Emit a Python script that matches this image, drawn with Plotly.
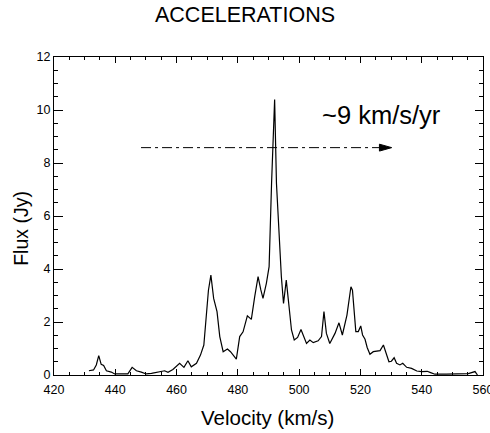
import plotly.graph_objects as go

# Spectrum
velocity = [431.4, 432.9, 433.8, 434.6, 435.4, 436.2, 437.1, 438.7, 439.8, 444.1,
            445.5, 446.9, 448.5, 450.1, 451.8, 453.9, 456.1, 457.2, 458.8, 461.0,
            462.4, 463.7, 464.8, 466.5, 467.8, 468.9, 469.7, 470.4, 471.2, 472.1,
            473.2, 474.1, 475.2, 476.6, 477.6, 478.4, 479.5, 480.6, 481.7, 483.1,
            484.4, 485.5, 486.6, 487.5, 488.2, 489.3, 490.2, 491.0, 492.0, 492.6,
            493.4, 494.2, 494.9, 495.8, 496.6, 497.5, 498.4, 499.5, 500.6, 501.6,
            502.4, 503.5, 504.6, 506.2, 507.3, 508.1, 508.9, 510.0, 511.7, 513.0,
            514.1, 515.6, 516.9, 517.4, 518.5, 519.3, 520.1, 520.7, 521.5, 522.2,
            523.1, 524.2, 526.4, 527.5, 528.3, 529.3, 530.1, 531.0, 531.8, 532.9,
            533.8, 535.1, 536.7, 538.4, 540.0, 541.8, 542.9, 544.3, 548.0, 552.0,
            555.2, 557.4, 558.2]
flux = [0.16, 0.19, 0.38, 0.73, 0.40, 0.36, 0.16, 0.11, 0.04, 0.04,
        0.29, 0.16, 0.11, 0.04, 0.06, 0.11, 0.16, 0.10, 0.21, 0.44,
        0.29, 0.54, 0.31, 0.44, 0.75, 1.13, 2.20, 3.20, 3.77, 2.89,
        2.39, 1.45, 0.88, 0.98, 0.88, 0.75, 0.60, 1.45, 1.63, 2.23,
        2.10, 2.96, 3.71, 3.21, 2.89, 3.46, 4.09, 7.23, 10.40, 7.23,
        5.35, 3.71, 2.70, 3.58, 2.70, 1.70, 1.32, 1.42, 1.72, 1.45,
        1.19, 1.32, 1.22, 1.29, 1.45, 2.39, 1.57, 1.19, 1.57, 1.97,
        1.51, 2.26, 3.33, 3.20, 1.64, 1.64, 1.85, 1.51, 1.35, 1.04,
        0.78, 0.88, 0.92, 1.13, 0.82, 0.50, 0.52, 0.65, 0.44, 0.38,
        0.44, 0.29, 0.25, 0.15, 0.13, 0.14, 0.09, 0.03, 0.03, 0.04,
        0.05, 0.13, 0.00]

x_range = [420, 560]
y_range = [0, 12]

# Acceleration arrow annotation
arrow_x_start = 448.4
arrow_head_base = 526.2
arrow_tip = 530.2
arrow_y = 8.58
arrow_half_h = 0.13
arrow_label = "~9 km/s/yr"
label_x, label_y = 527.0, 9.80

FONT = "Liberation Sans, Arial, Helvetica, sans-serif"

fig = go.Figure()
fig.add_trace(go.Scatter(x=velocity, y=flux, mode="lines",
                         line=dict(color="black", width=1.2),
                         showlegend=False, hoverinfo="skip"))

fig.add_shape(type="line", xref="x", yref="y",
              x0=arrow_x_start, x1=arrow_head_base, y0=arrow_y, y1=arrow_y,
              line=dict(color="black", width=1, dash="10px,4px,3px,4px"))
fig.add_shape(type="path", xref="x", yref="y",
              path=f"M {arrow_head_base},{arrow_y - arrow_half_h} L {arrow_tip},{arrow_y} "
                   f"L {arrow_head_base},{arrow_y + arrow_half_h} Z",
              fillcolor="black", line=dict(color="black", width=1))

fig.add_annotation(x=label_x, y=label_y, xref="x", yref="y", text=arrow_label,
                   showarrow=False, xanchor="center", yanchor="middle",
                   font=dict(family=FONT, size=25.5, color="black"))

fig.add_annotation(x=0.497, y=-0.135, xref="paper", yref="paper",
                   text="Velocity (km/s)", showarrow=False,
                   xanchor="center", yanchor="middle",
                   font=dict(family=FONT, size=20.5, color="black"))
fig.add_annotation(x=-0.076, y=0.461, xref="paper", yref="paper",
                   text="Flux (Jy)", showarrow=False, textangle=-90,
                   xanchor="center", yanchor="middle",
                   font=dict(family=FONT, size=19.5, color="black"))

axis_common = dict(showgrid=False, zeroline=False, showline=True,
                   linecolor="black", linewidth=1, ticks="inside",
                   mirror="allticks", tickcolor="black", tickwidth=1,
                   ticklabeloverflow="allow", automargin=False,
                   tickfont=dict(family=FONT, size=12.5, color="black"))

fig.update_xaxes(range=x_range, tick0=420, dtick=20, ticklen=6,
                 ticklabelstandoff=3,
                 minor=dict(dtick=5, ticks="inside", ticklen=3,
                            tickcolor="black", tickwidth=1),
                 **axis_common)
fig.update_yaxes(range=y_range, tick0=0, dtick=2, ticklen=8.5,
                 minor=dict(dtick=0.5, ticks="inside", ticklen=4,
                            tickcolor="black", tickwidth=1),
                 **axis_common)

fig.update_layout(
    width=490, height=433,
    margin=dict(l=54, r=7, t=57, b=58, autoexpand=False),
    paper_bgcolor="white", plot_bgcolor="white",
    title=dict(text="ACCELERATIONS", x=0.5, xref="container",
               y=1 - 14.3 / 433, yref="container", yanchor="middle",
               xanchor="center",
               font=dict(family=FONT, size=21.5, color="black")),
)

# Remove the default 8px page margin so the figure sits at the window origin
fig.write_html("out.html", config={"displayModeBar": False},
               post_script="document.body.style.margin='0px';")
